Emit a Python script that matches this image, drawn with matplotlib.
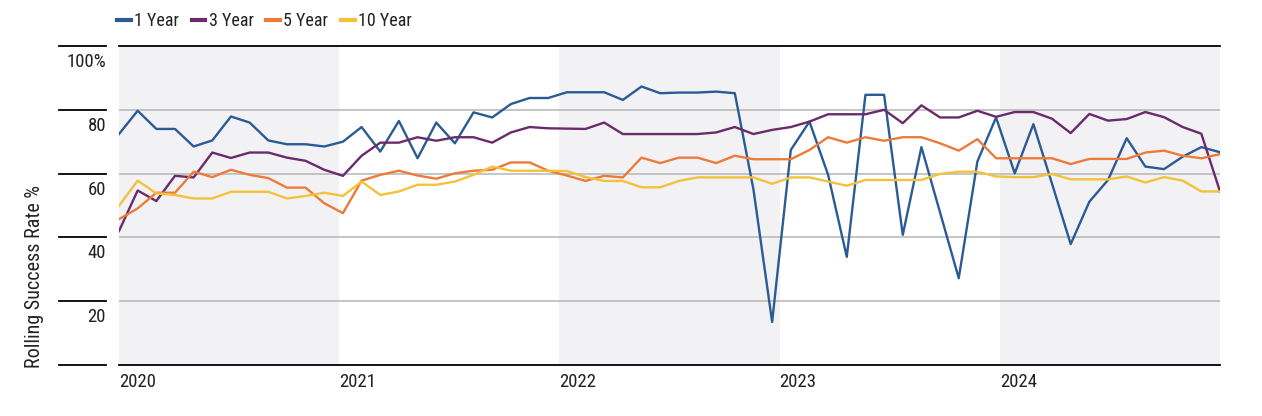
import matplotlib.pyplot as plt
import matplotlib.transforms as mtransforms
import numpy as np

plt.rcParams['font.family'] = ['Roboto Condensed', 'Open Sans Condensed', 'Liberation Sans Narrow',
                               'Roboto', 'DejaVu Sans']

# Monthly rolling success rates, Jan 2020 .. Dec 2024 (60 points)
one_year = [72.4, 79.7, 74.0, 74.0, 68.5, 70.4, 77.9, 76.0, 70.4, 69.2, 69.2, 68.5,
            70.0, 74.6, 66.9, 76.5, 64.8, 76.0, 69.5, 79.2, 77.6, 81.8, 83.7, 83.7,
            85.5, 85.5, 85.5, 83.1, 87.3, 85.2, 85.4, 85.4, 85.7, 85.2, 55.0, 13.5,
            67.4, 76.3, 59.6, 33.9, 84.7, 84.7, 40.8, 68.3, 47.8, 27.2, 63.8, 77.6,
            60.1, 75.5, 56.8, 37.9, 51.2, 58.0, 71.1, 62.2, 61.4, 65.3, 68.3, 66.7]
three_year = [42.0, 54.7, 51.4, 59.3, 58.8, 66.6, 64.9, 66.6, 66.6, 65.0, 64.0, 61.2,
              59.3, 65.6, 69.7, 69.7, 71.4, 70.3, 71.4, 71.4, 69.7, 72.9, 74.6, 74.2,
              74.1, 74.0, 76.0, 72.4, 72.4, 72.4, 72.4, 72.4, 72.9, 74.6, 72.4, 73.7,
              74.6, 76.3, 78.6, 78.6, 78.6, 80.0, 75.8, 81.4, 77.6, 77.6, 79.7, 77.8,
              79.3, 79.3, 77.2, 72.7, 78.7, 76.6, 77.1, 79.3, 77.7, 74.6, 72.5, 54.4]
five_year = [45.7, 49.1, 54.0, 54.0, 60.6, 58.9, 61.2, 59.6, 58.6, 55.6, 55.6, 50.7,
             47.6, 57.8, 59.6, 60.9, 59.4, 58.4, 60.1, 60.9, 61.2, 63.5, 63.5, 60.9,
             59.4, 57.7, 59.3, 58.8, 65.0, 63.3, 65.0, 65.0, 63.3, 65.6, 64.5, 64.5,
             64.5, 67.4, 71.4, 69.7, 71.4, 70.3, 71.4, 71.4, 69.5, 67.2, 70.8, 64.8,
             64.8, 64.8, 64.8, 63.0, 64.6, 64.6, 64.6, 66.6, 67.2, 65.6, 64.8, 66.1]
ten_year = [49.9, 57.8, 53.8, 53.3, 52.2, 52.2, 54.3, 54.3, 54.3, 52.2, 53.0, 54.0,
            53.0, 57.5, 53.3, 54.4, 56.5, 56.5, 57.5, 59.6, 62.2, 60.9, 60.9, 60.9,
            60.8, 58.9, 57.7, 57.7, 55.7, 55.7, 57.7, 58.8, 58.8, 58.8, 58.8, 56.8,
            58.8, 58.8, 57.5, 56.2, 58.0, 58.0, 58.0, 58.0, 59.9, 60.6, 60.6, 59.1,
            58.9, 58.9, 59.9, 58.2, 58.2, 58.2, 59.1, 57.2, 58.9, 57.8, 54.4, 54.4]

series_names = ['1 Year', '3 Year', '5 Year', '10 Year']
series_colors = ['#2B5B95', '#6B2A6C', '#EC7B3B', '#F3C23A']
years = ['2020', '2021', '2022', '2023', '2024']
y_ticks = [0, 20, 40, 60, 80, 100]
y_labels = ['', '20', '40', '60', '80', '100%']

FS = 13.5
TXT = '#222222'

n = len(one_year)
x = np.arange(n)
span = (n - 1) / len(years)   # years share the axis equally

fig = plt.figure(figsize=(12.62, 4.16), dpi=100)
ax = fig.add_axes([119 / 1262, 1 - 365 / 416, 1101 / 1262, 319 / 416])
ax.set_xlim(0, n - 1)
ax.set_ylim(0, 100)

# alternating year bands
for k in range(0, len(years), 2):
    ax.axvspan(k * span, (k + 1) * span, color='#F2F2F4', lw=0, zorder=0)

# grid
for v in y_ticks[1:-1]:
    ax.axhline(v, color='#B5B5B5', lw=1.1, zorder=1)

for vals, name, col in zip([one_year, three_year, five_year, ten_year], series_names, series_colors):
    ax.plot(x, vals, color=col, lw=1.7, label=name, zorder=3)

for s in ['left', 'right']:
    ax.spines[s].set_visible(False)
for s in ['top', 'bottom']:
    ax.spines[s].set_color('black')
    ax.spines[s].set_linewidth(1.3)

ax.set_yticks([])
ax.set_xticks([k * span for k in range(len(years))])
ax.set_xticklabels(years, fontsize=FS, color=TXT)
for lab in ax.get_xticklabels():
    lab.set_ha('left')
ax.tick_params(axis='x', length=0, pad=6)

# y labels in the left margin, under short rules
ytr = ax.get_yaxis_transform()
lab_tr = mtransforms.offset_copy(ytr, fig=fig, x=0, y=-5, units='points')
for v, lab in zip(y_ticks, y_labels):
    ax.plot([-0.0545, -0.0118], [v, v], color='black', lw=1.3, transform=ytr, clip_on=False)
    if lab:
        ax.text(-0.0118, v, lab, transform=lab_tr, ha='right', va='top', fontsize=FS, color=TXT)

fig.text(35 / 1262, 1 - 368 / 416, 'Rolling Success Rate %', rotation=90,
         ha='center', va='bottom', fontsize=14.5, color=TXT)

fig.legend(loc='center left', bbox_to_anchor=(117 / 1262, 1 - 21 / 416), ncol=4,
           frameon=False, fontsize=13, handlelength=0.75, handletextpad=0.2,
           columnspacing=0.7, borderpad=0, borderaxespad=0, labelcolor=TXT)
for h in fig.legends[0].get_lines():
    h.set_linewidth(3)

fig.savefig('out.png', dpi=100)
